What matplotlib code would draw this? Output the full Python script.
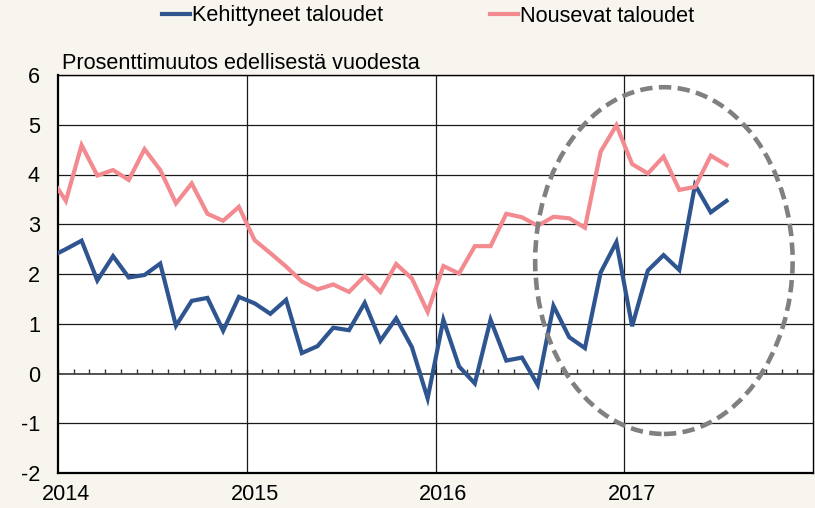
import matplotlib
matplotlib.use("Agg")
import matplotlib.pyplot as plt
from matplotlib.patches import Ellipse
import numpy as np

plt.rcParams['font.family'] = ['Liberation Sans', 'DejaVu Sans']

# Monthly data, Dec 2013 .. Jul 2017
start_year = 2013
start_month = 12
advanced = [2.34,
            2.50, 2.67, 1.87, 2.36, 1.93, 1.98, 2.21, 0.96, 1.46, 1.52, 0.86, 1.54,
            1.41, 1.20, 1.48, 0.41, 0.55, 0.92, 0.87, 1.42, 0.66, 1.11, 0.53, -0.50,
            1.08, 0.14, -0.20, 1.08, 0.26, 0.32, -0.23, 1.36, 0.73, 0.51, 2.03, 2.64,
            0.95, 2.07, 2.38, 2.08, 3.79, 3.24, 3.47]
emerging = [3.95,
            3.47, 4.59, 3.98, 4.09, 3.89, 4.51, 4.09, 3.42, 3.82, 3.21, 3.07, 3.35,
            2.68, 2.42, 2.15, 1.85, 1.69, 1.79, 1.64, 1.96, 1.64, 2.20, 1.91, 1.24,
            2.16, 2.01, 2.56, 2.56, 3.21, 3.14, 2.97, 3.15, 3.12, 2.93, 4.46, 4.99,
            4.21, 4.02, 4.36, 3.69, 3.75, 4.38, 4.19]
year_labels = ['2014', '2015', '2016', '2017']
yticks = [-2, -1, 0, 1, 2, 3, 4, 5, 6]
series_names = ['Kehittyneet taloudet', 'Nousevat taloudet']
ylabel_text = 'Prosenttimuutos edellisestä vuodesta'

n = len(advanced)
x = np.array([start_year + (start_month - 1 + i + 0.5) / 12.0 for i in range(n)])

blue = '#2F5590'
pink = '#F28A90'
bg = '#F8F4EE'
FS = 15.6

fig = plt.figure(figsize=(8.15, 5.08), dpi=100, facecolor=bg)
ax = fig.add_axes([58/815, 35/508, 755/815, 398/508])
ax.set_facecolor('white')

ax.set_xlim(2014, 2018)
ax.set_ylim(-2, 6)

# grid
for yv in yticks:
    if yv == 0:
        continue
    ax.axhline(yv, color='#1a1a1a', lw=0.9, zorder=1)
for yr in [2015, 2016, 2017]:
    ax.axvline(yr, color='#1a1a1a', lw=0.9, zorder=1)

l1, = ax.plot(x, advanced, color=blue, lw=3.0, solid_joinstyle='miter', zorder=3,
              label=series_names[0])
l2, = ax.plot(x, emerging, color=pink, lw=3.0, solid_joinstyle='miter', zorder=4,
              label=series_names[1])

ell = Ellipse((2017.21, 2.27), 1.364, 6.97, fill=False, edgecolor='#808080',
              lw=3.3, linestyle=(0, (2.7, 1.4)), zorder=5)
ax.add_patch(ell)

# ticks
ax.set_yticks(yticks)
ax.set_yticklabels([str(v) for v in yticks], fontsize=FS)
ax.tick_params(axis='y', length=0, pad=13)
ax.set_xticks([int(y) + 0.5/12 for y in year_labels])
ax.set_xticklabels(year_labels, fontsize=FS)
ax.tick_params(axis='x', length=0, pad=8)

# zero axis with monthly ticks
sec = ax.secondary_xaxis(0.25)
sec.set_xticks(np.arange(2014, 2018 + 1e-9, 1/12))
sec.tick_params(axis='x', direction='in', length=3.5, width=1.0, color='#333333',
                labelbottom=False)
sec.spines['bottom'].set_color('#444444')
sec.spines['bottom'].set_linewidth(1.3)

for s in ['left', 'bottom']:
    ax.spines[s].set_linewidth(1.6)
    ax.spines[s].set_color('black')
for s in ['top', 'right']:
    ax.spines[s].set_linewidth(1.0)
    ax.spines[s].set_color('black')

ax.text(4/755, (473-69)/398, ylabel_text, transform=ax.transAxes,
        fontsize=FS, ha='left', va='baseline')

fig.legend(handles=[l1, l2], labels=series_names, loc='center',
           bbox_to_anchor=(428/815, 1 - 16/508), ncol=2, frameon=False,
           fontsize=FS, handlelength=1.3, handletextpad=0.1,
           columnspacing=4.9)

fig.savefig('out.png', dpi=100, facecolor=bg)
